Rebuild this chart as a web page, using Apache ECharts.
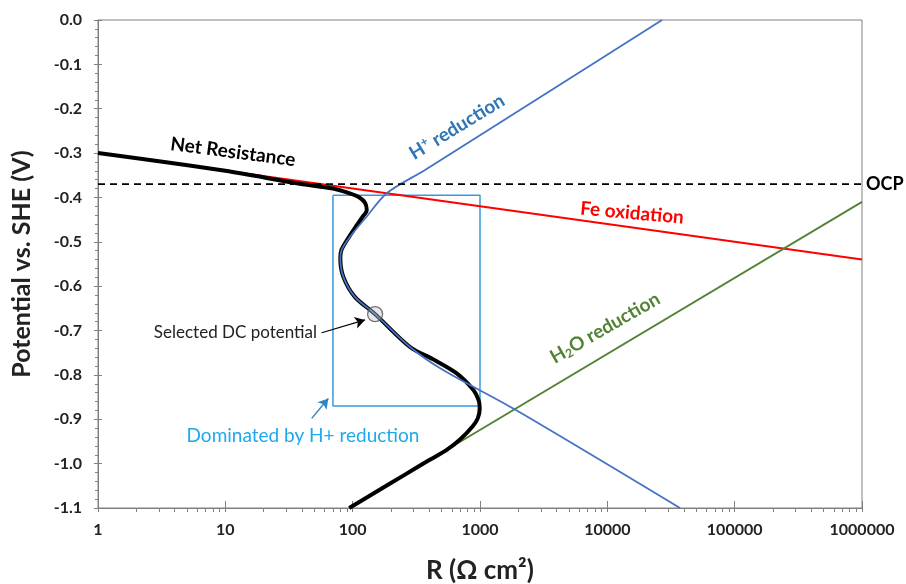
<!DOCTYPE html>
<html><head><meta charset="utf-8">
<script src="https://cdn.jsdelivr.net/npm/echarts@6/dist/echarts.min.js"></script>
<style>html,body{margin:0;padding:0;background:#fff}#c{width:906px;height:584px}</style>
</head><body><div id="c"></div>
<script>
// ---- data (R in ohm cm2, E in V vs SHE) ----
const xMajorTicks = [1, 10, 100, 1000, 10000, 100000, 1000000];
const xMinorTicks = [2,3,4,5,6,7,8,9,20,30,40,50,60,70,80,90,200,300,400,500,600,700,800,900,
  2000,3000,4000,5000,6000,7000,8000,9000,20000,30000,40000,50000,60000,70000,80000,90000,
  200000,300000,400000,500000,600000,700000,800000,900000];

const feR = [1, 1000000];
const feE = [-0.300, -0.540];

const h2oR = [94, 1000000];
const h2oE = [-1.100, -0.410];

const hR = [26900, 6100, 370, 186, 129, 95, 82, 80, 84.5, 104, 150, 282, 513, 1884, 37200];
const hE = [0.000, -0.117, -0.338, -0.390, -0.443, -0.489, -0.518, -0.537, -0.579, -0.624, -0.663, -0.737, -0.789, -0.878, -1.100];

const netR = [1, 10, 36.4, 70, 95, 113, 125, 129, 118, 104, 90.3, 81.7, 80, 84.5, 104, 150, 282, 430, 653, 888, 975, 995, 960, 880, 700, 548, 400, 250, 150, 94];
const netE = [-0.300, -0.340, -0.368, -0.380, -0.391, -0.400, -0.412, -0.428, -0.446, -0.469, -0.496, -0.518, -0.537, -0.579, -0.624, -0.663, -0.737, -0.765, -0.796, -0.834, -0.857, -0.875, -0.898, -0.915, -0.945, -0.969, -0.992, -1.027, -1.065, -1.100];

const ocpE = -0.37;
const ocpR = [1, 1000000];

const selectedR = 150, selectedE = -0.663;

const boxR = [70, 1000, 1000, 70, 70];
const boxE = [-0.395, -0.395, -0.870, -0.870, -0.395];

const arrowBlack = [[57.1, -0.705], [125, -0.676]];
const arrowBlue = [[47.7, -0.898], [64.4, -0.853]];

const zip = (a, b) => a.map((v, i) => [v, b[i]]);

const FONT = 'Lato, "Open Sans", sans-serif';
const GRID = { left: 98, right: 44, top: 20, bottom: 76 };
const chart = echarts.init(document.getElementById('c'));

const option = {
  animation: false,
  grid: [
    Object.assign({ show: true, borderColor: '#808080', borderWidth: 1, containLabel: false, outerBoundsMode: 'none' }, GRID),
    Object.assign({ show: false, containLabel: false, outerBoundsMode: 'none' }, GRID)
  ],
  xAxis: [{
    gridIndex: 0, type: 'log', logBase: 10, min: 1, max: 1000000, position: 'bottom',
    name: 'R (Ω cm²)', nameLocation: 'middle', nameGap: 50,
    nameTextStyle: { fontFamily: FONT, fontWeight: 'bold', fontSize: 26, color: '#222' },
    axisLine: { onZero: false, lineStyle: { color: '#808080', width: 1 } },
    axisTick: { inside: true, length: 7, lineStyle: { color: '#808080' } },
    minorTick: { show: false },
    splitLine: { show: false },
    axisLabel: { fontFamily: FONT, fontWeight: 'bold', fontSize: 16, color: '#222', margin: 14,
      formatter: v => String(Math.round(v)) }
  }, {
    // log-decade tick marks (major + 2..9 minors) on the bottom edge, pointing outward
    gridIndex: 1, type: 'value', min: 0, max: 6, position: 'bottom',
    axisLine: { show: false, onZero: false },
    axisTick: { show: true, inside: false, length: 4,
      customValues: xMajorTicks.concat(xMinorTicks).map(v => Math.log10(v)),
      lineStyle: { color: '#808080' } },
    axisLabel: { show: false }, splitLine: { show: false }
  }],
  yAxis: [{
    gridIndex: 0, type: 'value', min: -1.1, max: 0, interval: 0.1, position: 'left',
    name: 'Potential vs. SHE (V)', nameLocation: 'middle', nameGap: 64,
    nameTextStyle: { fontFamily: FONT, fontWeight: 'bold', fontSize: 25, color: '#222' },
    axisLine: { show: true, onZero: false, lineStyle: { color: '#808080', width: 1 } },
    axisTick: { show: true, inside: false, length: 4, lineStyle: { color: '#808080' } },
    minorTick: { show: true, splitNumber: 5, length: 3, lineStyle: { color: '#808080' } },
    splitLine: { show: false },
    axisLabel: { fontFamily: FONT, fontWeight: 'bold', fontSize: 16, color: '#222', margin: 16,
      formatter: v => v.toFixed(1) }
  }, {
    gridIndex: 1, type: 'value', min: -1.1, max: 0, interval: 0.1, position: 'left',
    axisLine: { show: false, onZero: false },
    axisTick: { show: true, inside: true, length: 4, lineStyle: { color: '#808080' } },
    axisLabel: { show: false }, splitLine: { show: false }
  }],
  series: [
    { type: 'line', name: 'box', data: zip(boxR, boxE), symbol: 'none',
      lineStyle: { color: '#3a9ad9', width: 1.5 }, z: 2, silent: true },
    { type: 'line', name: 'Fe oxidation', data: zip(feR, feE), symbol: 'none',
      lineStyle: { color: '#ff0000', width: 2 }, z: 3 },
    { type: 'line', name: 'H2O reduction', data: zip(h2oR, h2oE), symbol: 'none',
      lineStyle: { color: '#548235', width: 1.8 }, z: 3 },
    { type: 'line', name: 'H+ reduction', data: zip(hR, hE), symbol: 'none', smooth: 0.3,
      lineStyle: { color: '#4472c4', width: 1.8 }, z: 5 },
    { type: 'line', name: 'Net Resistance', data: zip(netR, netE), symbol: 'none', smooth: 0.3,
      lineStyle: { color: '#000', width: 4 }, z: 4 },
    { type: 'line', name: 'OCP', data: ocpR.map(r => [r, ocpE]), symbol: 'none',
      lineStyle: { color: '#000', width: 1.6, type: [7, 5] }, z: 6 },
    { type: 'scatter', name: 'selected', data: [[selectedR, selectedE]], symbol: 'circle', symbolSize: 15,
      itemStyle: { color: 'rgba(190,190,190,0.45)', borderColor: '#555', borderWidth: 1.3 }, z: 8,
      markLine: {
        silent: true, symbol: ['none', 'arrow'], symbolSize: [9, 10], label: { show: false },
        data: [
          [{ coord: arrowBlack[0], lineStyle: { color: '#000', width: 1.2, type: 'solid' } }, { coord: arrowBlack[1] }],
          [{ coord: arrowBlue[0], lineStyle: { color: '#2e86c9', width: 1.5, type: 'solid' } }, { coord: arrowBlue[1] }]
        ]
      } }
  ],
  graphic: [
    { type: 'text', x: 233, y: 152, rotation: -0.13, z: 100,
      style: { text: 'Net Resistance', font: 'bold 19px ' + FONT, fill: '#000', align: 'center', verticalAlign: 'middle' } },
    { type: 'text', x: 457, y: 127, rotation: 0.55, z: 100,
      style: { text: '{a|H}{s|+}{a| reduction}', align: 'center', verticalAlign: 'middle',
        rich: { a: { font: 'bold 19px ' + FONT, fill: '#2e75b6' }, s: { font: 'bold 12px ' + FONT, fill: '#2e75b6', padding: [0, 0, 9, 0] } } } },
    { type: 'text', x: 632, y: 213, rotation: -0.09, z: 100,
      style: { text: 'Fe oxidation', font: 'bold 19px ' + FONT, fill: '#ff0000', align: 'center', verticalAlign: 'middle' } },
    { type: 'text', x: 605, y: 328, rotation: 0.52, z: 100,
      style: { text: '{a|H}{s|2}{a|O reduction}', align: 'center', verticalAlign: 'middle',
        rich: { a: { font: 'bold 19px ' + FONT, fill: '#548235' }, s: { font: 'bold 12px ' + FONT, fill: '#548235', padding: [9, 0, 0, 0] } } } },
    { type: 'text', x: 866, y: 184, z: 100,
      style: { text: 'OCP', font: 'bold 18px ' + FONT, fill: '#000', align: 'left', verticalAlign: 'middle' } },
    { type: 'text', x: 317, y: 333, z: 100,
      style: { text: 'Selected DC potential', font: '17px ' + FONT, fill: '#222', align: 'right', verticalAlign: 'middle' } },
    { type: 'text', x: 303, y: 436, z: 100,
      style: { text: 'Dominated by H+ reduction', font: '19px ' + FONT, fill: '#1ea9ec', align: 'center', verticalAlign: 'middle' } }
  ]
};
chart.setOption(option);
</script></body></html>
